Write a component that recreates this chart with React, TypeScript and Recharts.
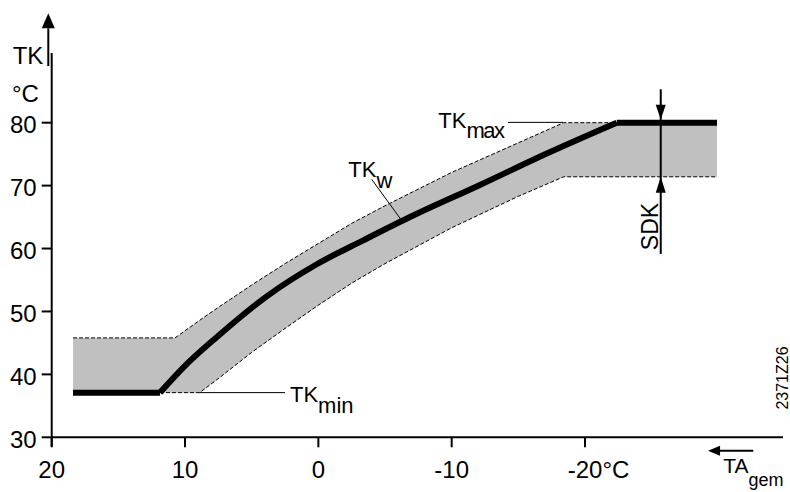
import React from "react";
import { ComposedChart, Line, Area, XAxis, YAxis, ReferenceLine, ReferenceDot } from "recharts";

const FONT = "'Liberation Sans', Arial, Helvetica, sans-serif";

// Heating curve TKw: outside temperature TAgem (°C) -> boiler temperature TK (°C)
const curveX = [18.4, 11.88, 10.08, 7.63, 3.87, 0.12, -3.37, -6.87, -12.12, -17.13, -22.38, -29.9];
const curveTK = [37.1, 37.1, 41.2, 45.9, 52.4, 57.5, 61.3, 65.0, 70.1, 75.1, 80, 80];

// Switching band (SDK) around the curve
const bandX = [18.4, 11.88, 10.75, 8.9, 7.4, 5, 2.5, 0, -2.5, -5, -10, -15, -18.4, -22.4, -29.9];
const bandHigh = [45.8, 45.8, 45.8, 48.6, 50.8, 54.2, 57.6, 60.8, 64.0, 66.8, 72.1, 76.8, 80, 80, 80];
const bandLow = [37.1, 37.1, 37.1, 37.1, 39.5, 43.5, 47.3, 51, 54.5, 57.6, 63.3, 68.3, 71.4, 71.4, 71.4];

const xTicks = [20, 10, 0, -10, -20];
const yTicks = [30, 40, 50, 60, 70, 80];

const slice = (xs: number[], ys: number[], from: number, to: number) =>
  xs.map((x, i) => ({ x, y: ys[i] })).filter((d) => d.x <= from && d.x >= to);

// thick curve pieces: flat (TKmin), rising, flat (TKmax)
const curveLow = slice(curveX, curveTK, 18.4, 11.88);
const curveRise = slice(curveX, curveTK, 11.88, -22.38);
const curveHigh = slice(curveX, curveTK, -22.38, -29.9);

const bandData = bandX.map((x, i) => ({ x, band: [bandLow[i], bandHigh[i]] }));
const upperData = slice(bandX, bandHigh, 18.4, -22.4);
const lowerData = slice(bandX, bandLow, 11.88, -29.9);

const XTick = (props: any) => {
  const { x, y, payload } = props;
  const v = payload.value;
  if (v === -20) {
    return (
      <g>
        <text x={x} y={y + 30.7} textAnchor="middle" fontSize={24} fontFamily={FONT} fill="#000">-20</text>
        <text x={x + 17.5} y={y + 30.7} textAnchor="start" fontSize={24} fontFamily={FONT} fill="#000">°C</text>
      </g>
    );
  }
  return (
    <text x={x} y={y + 30.7} textAnchor="middle" fontSize={24} fontFamily={FONT} fill="#000">{String(v)}</text>
  );
};

const YTick = (props: any) => {
  const { x, y, payload } = props;
  return (
    <text x={x} y={y + 10.5} textAnchor="end" fontSize={24} fontFamily={FONT} fill="#000">{String(payload.value)}</text>
  );
};

const textShape = (content: React.ReactNode, size = 24, anchor = "start", rotate = false) => (p: any) => (
  <text
    x={p.cx}
    y={p.cy}
    textAnchor={anchor}
    fontSize={size}
    fontFamily={FONT}
    fill="#000"
    transform={rotate ? `rotate(-90 ${p.cx} ${p.cy})` : undefined}
  >
    {content}
  </text>
);

const arrowDown = (p: any) => (
  <polygon points={`${p.cx},${p.cy} ${p.cx - 5},${p.cy - 15} ${p.cx + 5},${p.cy - 15}`} fill="#000" />
);
const arrowUp = (len: number, half: number) => (p: any) => (
  <polygon points={`${p.cx},${p.cy} ${p.cx - half},${p.cy + len} ${p.cx + half},${p.cy + len}`} fill="#000" />
);
const arrowLeft = (p: any) => (
  <polygon points={`${p.cx},${p.cy} ${p.cx + 12},${p.cy - 5} ${p.cx + 12},${p.cy + 5}`} fill="#000" />
);

const thick = (data: any[], type: any, key: string) => (
  <Line key={key} data={data} dataKey="y" type={type} stroke="#000" strokeWidth={6} strokeLinecap="butt" dot={false} activeDot={false} isAnimationActive={false} />
);

export default function App() {
  return (
    <div style={{ position: "absolute", left: 0, top: 0, width: 790, height: 492, background: "#fff" }}>
      <ComposedChart width={790} height={492} margin={{ top: 28.3, right: 5, left: 0, bottom: 0 }}>
        <XAxis
          dataKey="x"
          type="number"
          domain={[-35, 20]}
          reversed
          ticks={xTicks}
          allowDataOverflow
          axisLine={false}
          tickLine={{ stroke: "#000", strokeWidth: 2 }}
          tickSize={10}
          tickMargin={0}
          height={54.7}
          tick={<XTick />}
        />
        <YAxis
          type="number"
          domain={[30, 95]}
          ticks={yTicks}
          allowDataOverflow
          axisLine={false}
          tickLine={{ stroke: "#000", strokeWidth: 2 }}
          tickSize={10}
          tickMargin={5}
          width={51.7}
          tick={<YTick />}
        />
        <Area
          data={bandData}
          dataKey="band"
          type="linear"
          fill="#c0c0c0"
          fillOpacity={1}
          stroke="none"
          isAnimationActive={false}
          dot={false}
          activeDot={false}
        />
        <Line data={upperData} dataKey="y" type="linear" stroke="#000" strokeWidth={1} strokeDasharray="4 2" dot={false} activeDot={false} isAnimationActive={false} />
        <Line data={lowerData} dataKey="y" type="linear" stroke="#000" strokeWidth={1} strokeDasharray="4 2" dot={false} activeDot={false} isAnimationActive={false} />
        {thick(curveLow, "linear", "tl")}
        {thick(curveRise, "monotoneX", "tr")}
        {thick(curveHigh, "linear", "th")}

        {/* axes */}
        <ReferenceLine segment={[{ x: 20, y: 28.5 }, { x: 20, y: 91.08 }]} stroke="#000" strokeWidth={2} ifOverflow="visible" />
        <ReferenceLine segment={[{ x: 20, y: 30 }, { x: -34.85, y: 30 }]} stroke="#000" strokeWidth={2} ifOverflow="visible" />
        <ReferenceLine segment={[{ x: 20.255, y: 89 }, { x: 20.255, y: 95 }]} stroke="#000" strokeWidth={2} ifOverflow="visible" />
        <ReferenceDot x={20.255} y={97.4} r={1} ifOverflow="visible" shape={arrowUp(15, 6.5)} />
        <ReferenceLine segment={[{ x: -30.12, y: 27.87 }, { x: -32.62, y: 27.87 }]} stroke="#000" strokeWidth={2} ifOverflow="visible" />
        <ReferenceDot x={-29.23} y={27.87} r={1} ifOverflow="visible" shape={arrowLeft} />

        {/* leader lines */}
        <ReferenceLine segment={[{ x: -4.0, y: 71.0 }, { x: -6.18, y: 64.66 }]} stroke="#000" strokeWidth={1} ifOverflow="visible" />
        <ReferenceLine segment={[{ x: -14.22, y: 80.05 }, { x: -18.35, y: 80.05 }]} stroke="#000" strokeWidth={1} ifOverflow="visible" />
        <ReferenceLine segment={[{ x: 8.9, y: 37.1 }, { x: 2.5, y: 37.1 }]} stroke="#000" strokeWidth={1} ifOverflow="visible" />

        {/* SDK dimension */}
        <ReferenceLine segment={[{ x: -25.68, y: 85.31 }, { x: -25.68, y: 59.14 }]} stroke="#000" strokeWidth={2} ifOverflow="visible" />
        <ReferenceDot x={-25.68} y={80.45} r={1} ifOverflow="visible" shape={arrowDown} />
        <ReferenceDot x={-25.68} y={71.4} r={1} ifOverflow="visible" shape={arrowUp(16, 5)} />

        {/* texts */}
        <ReferenceDot x={22.93} y={89.33} r={1} ifOverflow="visible" shape={textShape("TK")} />
        <ReferenceDot x={22.98} y={83.34} r={1} ifOverflow="visible" shape={textShape("°C")} />
        <ReferenceDot
          x={-2.245}
          y={71.42}
          r={1}
          ifOverflow="visible"
          shape={textShape(<>TK<tspan dy={11.6}>w</tspan></>, 22)}
        />
        <ReferenceDot
          x={-8.995}
          y={79.11}
          r={1}
          ifOverflow="visible"
          shape={textShape(<>TK<tspan dy={10} letterSpacing={-1.5}>max</tspan></>, 22)}
        />
        <ReferenceDot
          x={2.13}
          y={35.66}
          r={1}
          ifOverflow="visible"
          shape={textShape(<>TK<tspan dy={11.6}>min</tspan></>, 22)}
        />
        <ReferenceDot x={-25.48} y={63.5} r={1} ifOverflow="visible" shape={textShape("SDK", 23, "middle", true)} />
        <ReferenceDot x={-35.22} y={39.42} r={1} ifOverflow="visible" shape={textShape("2371Z26", 16, "middle", true)} />
        <ReferenceDot
          x={-30.37}
          y={24.28}
          r={1}
          ifOverflow="visible"
          shape={textShape(<>TA<tspan dy={13} fontSize={18}>gem</tspan></>, 21)}
        />
      </ComposedChart>
    </div>
  );
}
